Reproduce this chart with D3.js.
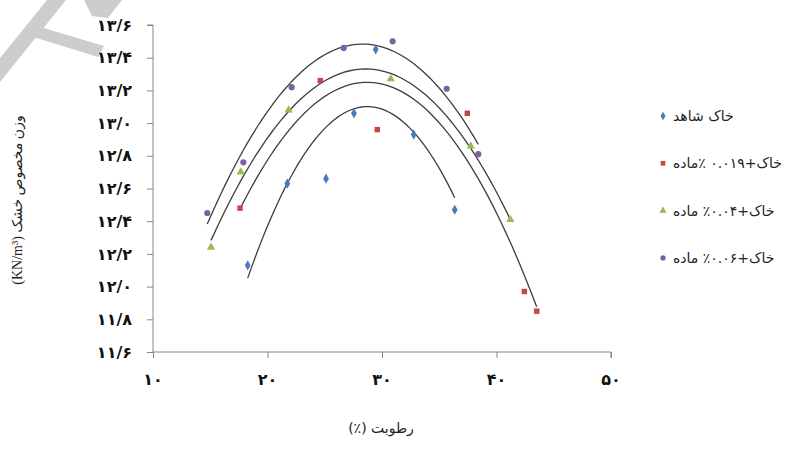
<!DOCTYPE html>
<html>
<head>
<meta charset="utf-8">
<script src="https://cdn.jsdelivr.net/npm/d3@7"></script>
<style>
  body { margin: 0; background: #fff; }
  svg { display: block; }
</style>
</head>
<body>
<script>
// axis ticks
const xTicks = [10, 20, 30, 40, 50];
const yTicks = [11.6, 11.8, 12.0, 12.2, 12.4, 12.6, 12.8, 13.0, 13.2, 13.4, 13.6];

// series (moisture %, dry unit weight kN/m3)
const seriesNames = ['خاک شاهد', 'خاک+۰.۰۱۹ ٪ماده', 'خاک+۰.۰۴٪ ماده', 'خاک+۰.۰۶٪ ماده'];
const moistureControl = [18.27, 21.73, 25.11, 27.55, 29.45, 32.77, 36.35];
const densityControl = [12.13, 12.63, 12.66, 13.06, 13.45, 12.93, 12.47];
const moisture019 = [17.60, 24.61, 29.59, 37.45, 42.43, 43.51];
const density019 = [12.48, 13.26, 12.96, 13.06, 11.97, 11.85];
const moisture04 = [15.07, 17.66, 21.85, 30.76, 37.75, 41.21];
const density04 = [12.24, 12.70, 13.08, 13.27, 12.86, 12.41];
const moisture06 = [14.74, 17.89, 22.11, 26.66, 30.93, 35.65, 38.41];
const density06 = [12.45, 12.76, 13.22, 13.46, 13.50, 13.21, 12.81];

const colors = ['#4a7ebb', '#be4b48', '#98b954', '#7d60a0'];
const symbols = [d3.symbolDiamond, d3.symbolSquare, d3.symbolTriangle, d3.symbolCircle];

const series = [
  [moistureControl, densityControl],
  [moisture019, density019],
  [moisture04, density04],
  [moisture06, density06]
].map((s, i) => ({
  name: seriesNames[i],
  color: colors[i],
  symbol: symbols[i],
  points: s[0].map((x, j) => ({ x: x, y: s[1][j] }))
}));

const fa = s => String(s).replace(/\d/g, d => '۰۱۲۳۴۵۶۷۸۹'[d]);

// 2nd order least squares trendline (like excel poly trend)
function quadFit(pts) {
  const m = d3.mean(pts, p => p.x);
  const S = [0, 0, 0, 0, 0], T = [0, 0, 0];
  pts.forEach(p => {
    const u = p.x - m;
    for (let k = 0; k < 5; k++) S[k] += Math.pow(u, k);
    for (let k = 0; k < 3; k++) T[k] += Math.pow(u, k) * p.y;
  });
  const A = [[S[0], S[1], S[2], T[0]], [S[1], S[2], S[3], T[1]], [S[2], S[3], S[4], T[2]]];
  for (let i = 0; i < 3; i++) {
    for (let r = i + 1; r < 3; r++) {
      const f = A[r][i] / A[i][i];
      for (let c = i; c < 4; c++) A[r][c] -= f * A[i][c];
    }
  }
  const c = [0, 0, 0];
  for (let i = 2; i >= 0; i--) {
    let s = A[i][3];
    for (let j = i + 1; j < 3; j++) s -= A[i][j] * c[j];
    c[i] = s / A[i][i];
  }
  return x => c[0] + c[1] * (x - m) + c[2] * (x - m) * (x - m);
}

const width = 796, height = 455;
const x = d3.scaleLinear().domain([10, 50]).range([153, 611]);
const y = d3.scaleLinear().domain([11.6, 13.6]).range([352, 25]);

const svg = d3.select('body').append('svg')
  .attr('width', width)
  .attr('height', height);

// watermark in the corner
const wm = svg.append('g').attr('fill', '#cdcdcd');
wm.append('path').attr('d', 'M0,58 L47,0 L66,0 L0,82 Z');
wm.append('path').attr('d', 'M30,36 L37,26 L104,46 L98,57 Z');
wm.append('path').attr('d', 'M84,0 L122,0 L108,18 L92,16 Z');

// axes
const axisColor = '#868686';
const yAxis = svg.append('g')
  .attr('transform', 'translate(' + x(10) + ',0)')
  .call(d3.axisLeft(y).tickValues(yTicks).tickSize(6).tickFormat(''));
const xAxis = svg.append('g')
  .attr('transform', 'translate(0,' + y(11.6) + ')')
  .call(d3.axisBottom(x).tickValues(xTicks).tickSize(6).tickFormat(''));
svg.selectAll('.domain, .tick line').attr('stroke', axisColor);
yAxis.select('.domain').attr('d', 'M-6,' + y(13.6) + 'H0V' + y(11.6));
xAxis.select('.domain').attr('d', 'M' + x(10) + ',0H' + x(50) + 'V6');

svg.append('g').selectAll('text')
  .data(yTicks)
  .join('text')
  .attr('x', 132)
  .attr('y', d => y(d))
  .attr('dy', '0.35em')
  .attr('text-anchor', 'end')
  .attr('font-family', 'DejaVu Sans')
  .attr('font-weight', 'bold')
  .attr('font-size', 16)
  .attr('fill', '#111')
  .text(d => fa(d.toFixed(1).replace('.', '/')));

svg.append('g').selectAll('text')
  .data(xTicks)
  .join('text')
  .attr('x', d => x(d))
  .attr('y', 385)
  .attr('text-anchor', 'middle')
  .attr('font-family', 'DejaVu Sans')
  .attr('font-weight', 'bold')
  .attr('font-size', 16)
  .attr('fill', '#111')
  .text(d => fa(d));

// axis titles
svg.append('text')
  .attr('transform', 'translate(22,200) rotate(-90)')
  .attr('direction', 'rtl')
  .attr('text-anchor', 'middle')
  .attr('font-family', 'Liberation Serif, DejaVu Sans')
  .attr('font-size', 14)
  .attr('fill', '#222')
  .text('وزن مخصوص خشک (KN/m³)');

svg.append('text')
  .attr('x', 381)
  .attr('y', 433)
  .attr('direction', 'rtl')
  .attr('text-anchor', 'middle')
  .attr('font-family', 'DejaVu Sans')
  .attr('font-size', 14)
  .attr('fill', '#222')
  .text('رطوبت (٪)');

// trendlines
const line = d3.line().x(d => x(d.x)).y(d => y(d.y));
series.forEach(s => {
  const f = quadFit(s.points);
  const ext = d3.extent(s.points, p => p.x);
  const curve = d3.range(0, 61).map(i => {
    const v = ext[0] + (ext[1] - ext[0]) * i / 60;
    return { x: v, y: f(v) };
  });
  svg.append('path')
    .datum(curve)
    .attr('fill', 'none')
    .attr('stroke', '#3d3d3d')
    .attr('stroke-width', 1.3)
    .attr('d', line);
});

// markers
series.forEach(s => {
  svg.append('g').selectAll('path')
    .data(s.points)
    .join('path')
    .attr('transform', d => 'translate(' + x(d.x) + ',' + y(d.y) + ')')
    .attr('d', d3.symbol().type(s.symbol).size(30))
    .attr('fill', s.color);
});

// legend
const legend = svg.append('g').attr('transform', 'translate(663,116)');
const item = legend.selectAll('g')
  .data(series)
  .join('g')
  .attr('transform', (d, i) => 'translate(0,' + i * 47.3 + ')');
item.append('path')
  .attr('d', d => d3.symbol().type(d.symbol).size(22)())
  .attr('fill', d => d.color);
item.append('text')
  .attr('x', 10)
  .attr('dy', '0.35em')
  .attr('direction', 'rtl')
  .attr('text-anchor', 'end')
  .attr('font-family', 'DejaVu Sans')
  .attr('font-size', 14)
  .attr('fill', '#222')
  .text(d => d.name);
</script>
</body>
</html>
